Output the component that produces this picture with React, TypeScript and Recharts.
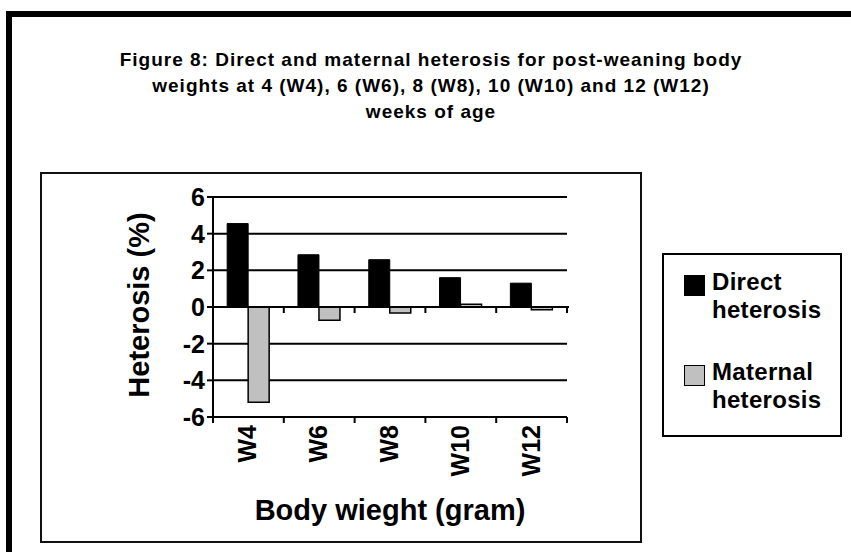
import {
  BarChart,
  Bar,
  XAxis,
  YAxis,
  CartesianGrid,
  Legend,
  ReferenceLine,
  Label,
} from 'recharts';

const FONT = '"Liberation Sans", Arial, sans-serif';

const weeks = ['W4', 'W6', 'W8', 'W10', 'W12'];
const directHeterosis = [4.55, 2.85, 2.58, 1.6, 1.3];
const maternalHeterosis = [-5.2, -0.72, -0.33, 0.15, -0.15];
const yTicks = [-6, -4, -2, 0, 2, 4, 6];
const titleLines = [
  'Figure 8: Direct and maternal heterosis for post-weaning body',
  'weights at 4 (W4), 6 (W6), 8 (W8), 10 (W10) and 12 (W12)',
  'weeks of age',
];

const data = weeks.map((week, i) => ({
  week,
  direct: directHeterosis[i],
  maternal: maternalHeterosis[i],
}));

// category labels rotated, tick marks sit on the category boundaries
function WeekTick(props: any) {
  const { x, y, payload, index } = props;
  const half = payload.offset ?? 0;
  const last = index === weeks.length - 1;
  return (
    <g>
      <line x1={x - half} x2={x - half} y1={y - 8} y2={y - 2} stroke="#000" strokeWidth={2} />
      {last && <line x1={x + half} x2={x + half} y1={y - 8} y2={y - 2} stroke="#000" strokeWidth={2} />}
      <text
        x={x + 8}
        y={y}
        transform={`rotate(-90, ${x + 8}, ${y})`}
        textAnchor="end"
        fontSize={25}
        fontWeight="bold"
        fontFamily={FONT}
        fill="#000"
      >
        {payload.value}
      </text>
    </g>
  );
}

function ZeroLine(props: any) {
  const { x1, x2, y1 } = props;
  const n = weeks.length;
  return (
    <g>
      <line x1={x1} x2={x2 + 2} y1={y1} y2={y1} stroke="#000" strokeWidth={2} />
      {Array.from({ length: n + 1 }, (_, i) => {
        const x = x1 + ((x2 - x1) * i) / n;
        return <line key={i} x1={x} x2={x} y1={y1} y2={y1 + 6} stroke="#000" strokeWidth={2} />;
      })}
    </g>
  );
}

function LegendBox(props: any) {
  const { payload = [] } = props;
  return (
    <div
      style={{
        width: 180,
        height: 184,
        border: '2px solid #000',
        boxSizing: 'border-box',
        padding: '13px 0 0 20px',
        fontFamily: FONT,
        fontWeight: 'bold',
        fontSize: 24,
        lineHeight: '28px',
        letterSpacing: 0.3,
        color: '#000',
        textAlign: 'left',
        background: '#fff',
      }}
    >
      {payload.map((p: any, i: number) => {
        const [first, ...rest] = String(p.value).split(' ');
        return (
          <div key={p.value} style={{ display: 'flex', marginTop: i ? 34 : 0 }}>
            <div
              style={{
                width: 21,
                height: 21,
                background: p.color,
                border: '1.5px solid #000',
                boxSizing: 'border-box',
                marginTop: 7,
                marginRight: 7,
                flex: 'none',
              }}
            />
            <div>
              {first}
              <br />
              {rest.join(' ')}
            </div>
          </div>
        );
      })}
    </div>
  );
}

export default function App() {
  return (
    <div style={{ position: 'absolute', left: 0, top: 0, width: 851, height: 552, overflow: 'hidden', background: '#fff' }}>
      <div
        style={{
          position: 'absolute',
          left: 6,
          top: 11,
          width: 900,
          height: 600,
          borderTop: '6px solid #000',
          borderLeft: '6px solid #000',
        }}
      />
      <div
        style={{
          position: 'absolute',
          left: 40,
          top: 172,
          width: 602,
          height: 371,
          border: '2px solid #111',
          boxSizing: 'border-box',
        }}
      />
      <div
        style={{
          position: 'absolute',
          left: 0,
          top: 47,
          width: 862,
          textAlign: 'center',
          fontFamily: FONT,
          fontWeight: 'bold',
          fontSize: 19,
          lineHeight: '26px',
          letterSpacing: 1,
          color: '#000',
        }}
      >
        {titleLines.map((t) => (
          <div key={t}>{t}</div>
        ))}
      </div>
      <div style={{ position: 'absolute', left: 0, top: 0 }}>
        <BarChart
          width={851}
          height={552}
          data={data}
          margin={{ top: 197, right: 284, bottom: 10, left: 40 }}
          barCategoryGap="20%"
          barGap={0}
        >
          <CartesianGrid vertical={false} stroke="#000" strokeWidth={2} />
          <XAxis
            dataKey="week"
            height={125}
            interval={0}
            tickSize={6}
            tickMargin={2}
            tickLine={false}
            axisLine={{ stroke: '#000', strokeWidth: 2 }}
            tick={<WeekTick />}
          >
            <Label
              content={(p: any) => (
                <text
                  x={p.viewBox.x + p.viewBox.width / 2}
                  y={p.viewBox.y + 103}
                  textAnchor="middle"
                  fontSize={29}
                  fontWeight="bold"
                  fontFamily={FONT}
                  fill="#000"
                >
                  Body wieght (gram)
                </text>
              )}
            />
          </XAxis>
          <XAxis
            xAxisId="top"
            orientation="top"
            dataKey="week"
            height={0}
            tick={false}
            tickLine={false}
            axisLine={{ stroke: '#8c8c8c', strokeWidth: 2 }}
          />
          <YAxis
            type="number"
            domain={[-6, 6]}
            ticks={yTicks}
            interval={0}
            width={173}
            tickSize={6}
            tickMargin={2}
            axisLine={{ stroke: '#000', strokeWidth: 2 }}
            tickLine={{ stroke: '#000', strokeWidth: 2 }}
            tick={{ fill: '#000', fontSize: 25, fontWeight: 'bold', fontFamily: FONT }}
          >
            <Label
              content={(p: any) => {
                const x = p.viewBox.x + 109;
                const y = p.viewBox.y + p.viewBox.height / 2 - 2;
                return (
                  <text
                    x={x}
                    y={y}
                    transform={`rotate(-90, ${x}, ${y})`}
                    textAnchor="middle"
                    fontSize={29}
                    fontWeight="bold"
                    fontFamily={FONT}
                    fill="#000"
                  >
                    Heterosis (%)
                  </text>
                );
              }}
            />
          </YAxis>
          <YAxis
            yAxisId="right"
            orientation="right"
            type="number"
            domain={[-6, 6]}
            width={0}
            tick={false}
            tickLine={false}
            axisLine={{ stroke: '#8c8c8c', strokeWidth: 2 }}
          />
          <Legend
            layout="vertical"
            align="center"
            verticalAlign="middle"
            wrapperStyle={{ left: 662, top: 253, width: 180, height: 184 }}
            content={<LegendBox />}
          />
          <Bar dataKey="direct" name="Direct heterosis" fill="#000" stroke="#000" strokeWidth={1} isAnimationActive={false} />
          <Bar dataKey="maternal" name="Maternal heterosis" fill="#c0c0c0" stroke="#000" strokeWidth={1.5} isAnimationActive={false} />
          <ReferenceLine y={0} shape={<ZeroLine />} />
        </BarChart>
      </div>
    </div>
  );
}
